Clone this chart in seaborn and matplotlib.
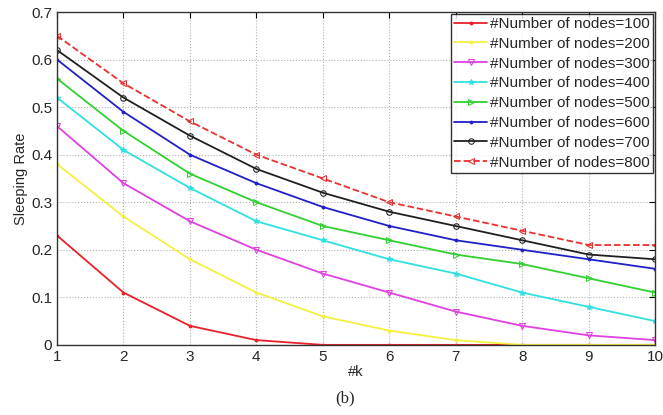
import matplotlib
matplotlib.use('Agg')
import pandas as pd
import matplotlib.pyplot as plt
import seaborn as sns

k = [1, 2, 3, 4, 5, 6, 7, 8, 9, 10]
nodes = [100, 200, 300, 400, 500, 600, 700, 800]
rate_100 = [0.23, 0.11, 0.04, 0.01, 0.0, 0.0, 0.0, 0.0, 0.0, 0.0]
rate_200 = [0.38, 0.27, 0.18, 0.11, 0.06, 0.03, 0.01, 0.0, 0.0, 0.0]
rate_300 = [0.46, 0.34, 0.26, 0.20, 0.15, 0.11, 0.07, 0.04, 0.02, 0.01]
rate_400 = [0.52, 0.41, 0.33, 0.26, 0.22, 0.18, 0.15, 0.11, 0.08, 0.05]
rate_500 = [0.56, 0.45, 0.36, 0.30, 0.25, 0.22, 0.19, 0.17, 0.14, 0.11]
rate_600 = [0.60, 0.49, 0.40, 0.34, 0.29, 0.25, 0.22, 0.20, 0.18, 0.16]
rate_700 = [0.62, 0.52, 0.44, 0.37, 0.32, 0.28, 0.25, 0.22, 0.19, 0.18]
rate_800 = [0.65, 0.55, 0.47, 0.40, 0.35, 0.30, 0.27, 0.24, 0.21, 0.21]
rates = [rate_100, rate_200, rate_300, rate_400, rate_500, rate_600, rate_700, rate_800]

colors = ['#e8202a', '#f4f040', '#e040e0', '#30e0e0', '#30d030', '#2020c8', '#202020', '#e83030']
markers = ['.', '.', 'v', '*', '>', '.', 'o', '<']
styles = ['-', '-', '-', '-', '-', '-', '-', '--']

sns.set_style('white')
plt.rcParams['font.family'] = ['Liberation Sans', 'DejaVu Sans']

fig = plt.figure(figsize=(6.63, 4.15), dpi=100)
ax = fig.add_axes([0.086, 0.169, 0.902, 0.802])

for n, r, c, m, ls in zip(nodes, rates, colors, markers, styles):
    df = pd.DataFrame({'k': k, 'rate': r})
    mfc = 'none' if m in ('o', 'v', '<', '>') else c
    sns.lineplot(data=df, x='k', y='rate', ax=ax, color=c, marker=m, linestyle=ls,
                 linewidth=1.3, markersize=4, markerfacecolor=mfc, markeredgecolor=c,
                 label='#Number of nodes=%d' % n)

ax.set_xlim(1, 10)
ax.set_ylim(0, 0.7)
ax.set_xticks(k)
ax.set_yticks([0, 0.1, 0.2, 0.3, 0.4, 0.5, 0.6, 0.7])
ax.set_yticklabels(['0', '0.1', '0.2', '0.3', '0.4', '0.5', '0.6', '0.7'])
ax.grid(True, linestyle=':', color='#b0b0b0', linewidth=0.8)
ax.tick_params(direction='in', top=True, right=True, labelsize=11, length=4, color='black')
for s in ax.spines.values():
    s.set_color('#333333')
    s.set_linewidth(1.0)
ax.set_xlabel('#k', fontsize=10.5, labelpad=1)
ax.set_ylabel('Sleeping Rate', fontsize=10.5, labelpad=2)

leg = ax.legend(loc='upper right', fontsize=11, frameon=True, fancybox=False,
                borderpad=0.2, labelspacing=0.38, handlelength=2.2, handletextpad=0.2,
                borderaxespad=0.12)
leg.get_frame().set_edgecolor('black')
leg.get_frame().set_linewidth(1.0)

fig.text(0.52, 0.02, '(b)', fontsize=12, family='Liberation Serif', ha='center', va='bottom')

plt.savefig('out.png', dpi=100)
